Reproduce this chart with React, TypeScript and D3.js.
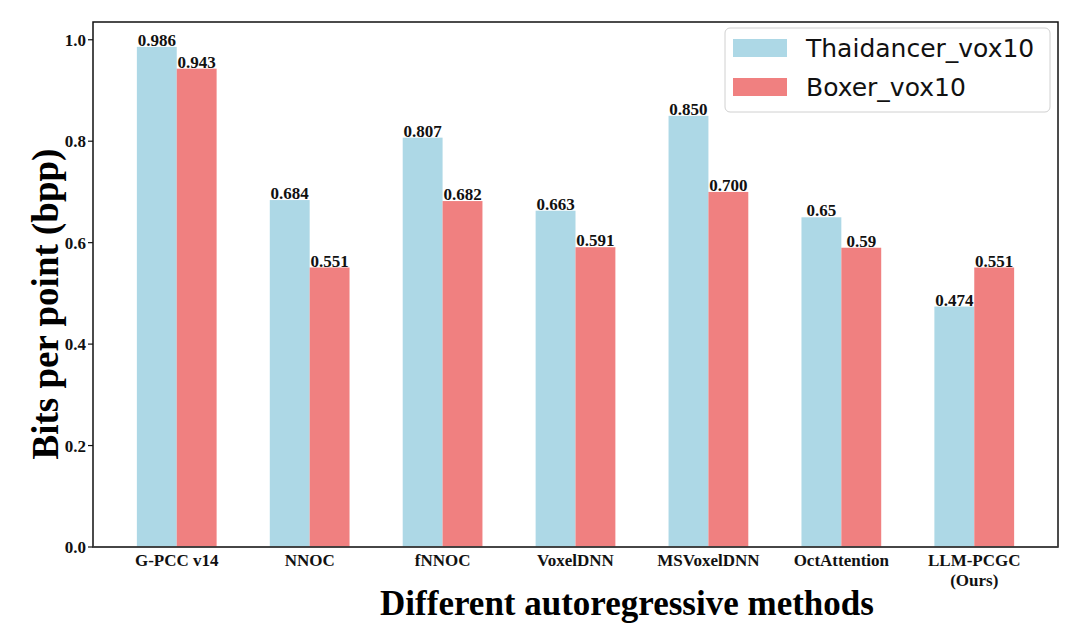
import React from 'react';
import * as d3 from 'd3';

const methods = ['G-PCC v14', 'NNOC', 'fNNOC', 'VoxelDNN', 'MSVoxelDNN', 'OctAttention', 'LLM-PCGC\n(Ours)'];
const thaidancer = [0.986, 0.684, 0.807, 0.663, 0.85, 0.65, 0.474];
const boxer = [0.943, 0.551, 0.682, 0.591, 0.7, 0.59, 0.551];
const thaidancerLabels = ['0.986', '0.684', '0.807', '0.663', '0.850', '0.65', '0.474'];
const boxerLabels = ['0.943', '0.551', '0.682', '0.591', '0.700', '0.59', '0.551'];
const seriesNames = ['Thaidancer_vox10', 'Boxer_vox10'];
const yTicks = [0, 0.2, 0.4, 0.6, 0.8, 1.0];

const width = 1080;
const height = 639;
const left = 93;
const right = 1058;
const top = 22;
const bottom = 547;
const barW = 0.3;
const serif = "'Liberation Serif', 'Times New Roman', serif";
const sans = "'DejaVu Sans', sans-serif";

const App: React.FC = () => {
  const x = d3.scaleLinear().domain([-0.63, methods.length - 1 + 0.63]).range([left, right]);
  const y = d3.scaleLinear().domain([0, 1.035]).range([bottom, top]);
  const bw = x(barW) - x(0);

  const series = [
    { name: seriesNames[0], values: thaidancer, labels: thaidancerLabels, color: '#add8e6', off: -barW / 2 },
    { name: seriesNames[1], values: boxer, labels: boxerLabels, color: '#f08080', off: barW / 2 },
  ];

  return (
    <div style={{ position: 'absolute', left: 0, top: 0 }}>
      <svg width={width} height={height} style={{ display: 'block', background: '#fff' }}>
        {series.map(s => (
          <g key={s.name}>
            {s.values.map((v, i) => (
              <rect key={i} x={x(i + s.off) - bw / 2} y={y(v)} width={bw} height={y(0) - y(v)} fill={s.color} />
            ))}
            {s.values.map((v, i) => (
              <text key={'t' + i} x={x(i + s.off)} y={y(v) - 1} textAnchor="middle"
                fontFamily={serif} fontWeight="bold" fontSize={17} fill="#111">{s.labels[i]}</text>
            ))}
          </g>
        ))}

        {/* axes frame */}
        <rect x={left} y={top} width={right - left} height={bottom - top} fill="none" stroke="#111" strokeWidth={1.5} />
        <line x1={left} x2={right} y1={bottom} y2={bottom} stroke="#444" strokeWidth={1.6} />

        {yTicks.map(t => (
          <g key={t}>
            <line x1={left - 5} x2={left} y1={y(t)} y2={y(t)} stroke="#111" strokeWidth={1.2} />
            <text x={left - 7} y={y(t)} dy="0.35em" textAnchor="end" fontFamily={serif} fontWeight="bold"
              fontSize={17} fill="#111">{d3.format('.1f')(t)}</text>
          </g>
        ))}

        {methods.map((m, i) => (
          <text key={m} x={x(i)} y={566} textAnchor="middle" fontFamily={serif} fontWeight="bold" fontSize={17} fill="#111">
            {m.split('\n').map((line, k) => (
              <tspan key={k} x={x(i)} dy={k === 0 ? 0 : 20}>{line}</tspan>
            ))}
          </text>
        ))}

        <text x={627} y={615} textAnchor="middle" fontFamily={serif} fontWeight="bold" fontSize={35} fill="#000">
          Different autoregressive methods
        </text>
        <text transform="translate(58,304) rotate(-90)" textAnchor="middle" fontFamily={serif} fontWeight="bold"
          fontSize={37} fill="#000">Bits per point (bpp)</text>

        {/* legend */}
        <g>
          <rect x={725} y={28} width={325} height={84} rx={5} fill="#fff" fillOpacity={0.8} stroke="#d0d0d0" strokeWidth={1} />
          {series.map((s, k) => (
            <g key={s.name}>
              <rect x={733} y={39 + k * 39} width={54} height={18} fill={s.color} />
              <text x={806} y={57 + k * 39} fontFamily={sans} fontSize={25} fill="#111">{s.name}</text>
            </g>
          ))}
        </g>
      </svg>
    </div>
  );
};

export default App;
